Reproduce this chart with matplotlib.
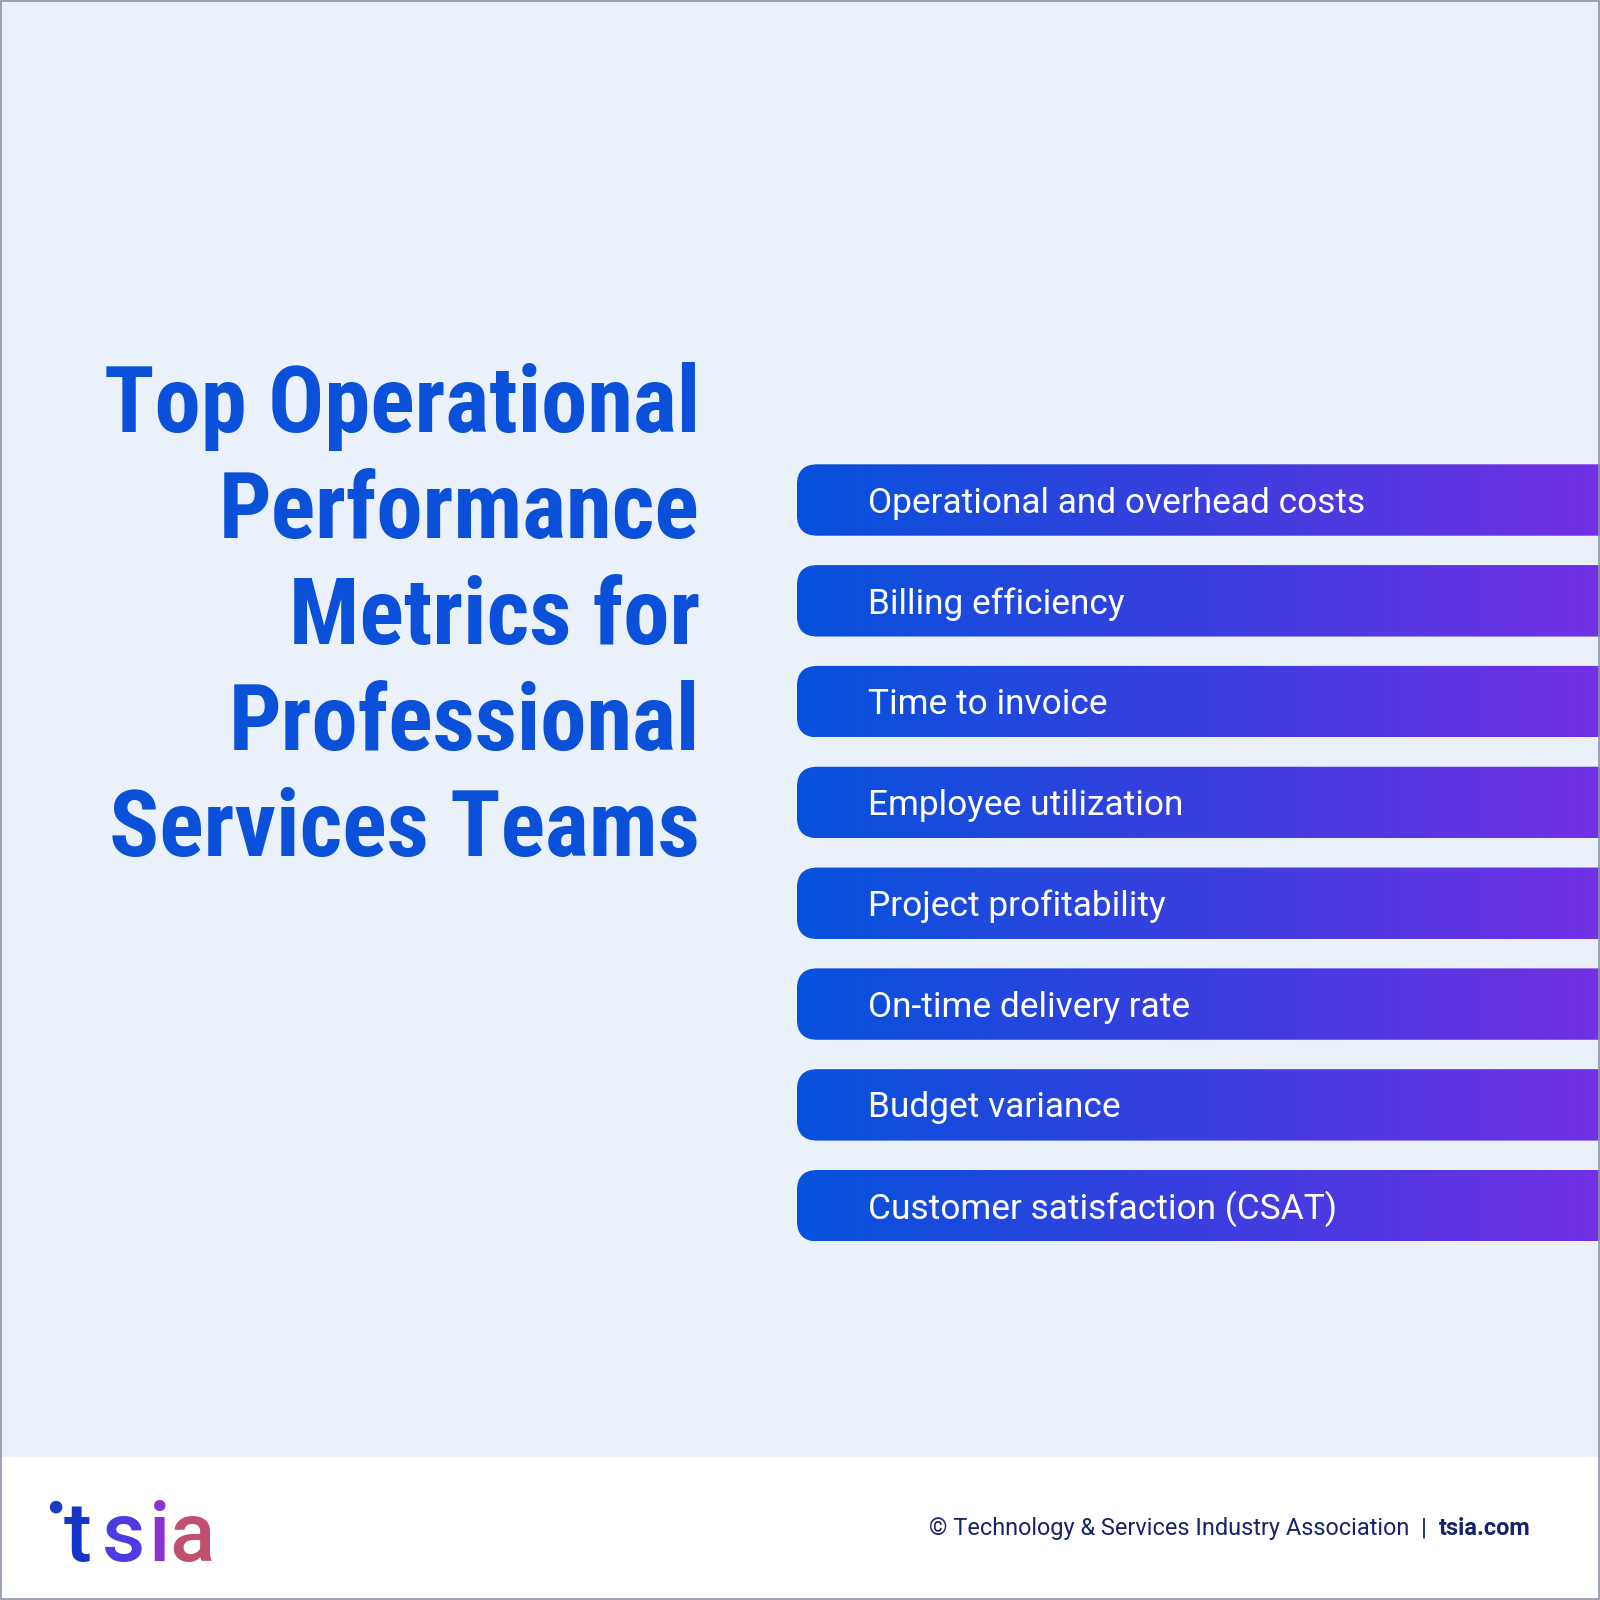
import numpy as np
import matplotlib
matplotlib.use("Agg")
import matplotlib.pyplot as plt
from matplotlib.patches import FancyBboxPatch, Rectangle
from matplotlib import font_manager as fm
from matplotlib.colors import LinearSegmentedColormap

title_lines = ["Top Operational", "Performance", "Metrics for", "Professional", "Services Teams"]
metrics = ["Operational and overhead costs", "Billing efficiency", "Time to invoice",
           "Employee utilization", "Project profitability", "On-time delivery rate",
           "Budget variance", "Customer satisfaction (CSAT)"]
footer = "© Technology & Services Industry Association  |  "
footer_bold = "tsia.com"
logo_letters = ["t", "s", "i", "a"]

names = {f.name for f in fm.fontManager.ttflist}
cond = next((n for n in ["Roboto Condensed", "Liberation Sans Narrow", "Roboto"] if n in names), "DejaVu Sans")

W = 1568
S = 1600 / W
def pt(px):
    return px * S * 72 / 100

fig = plt.figure(figsize=(16, 16), dpi=100)
ax = fig.add_axes([0, 0, 1, 1])
ax.set_xlim(0, W); ax.set_ylim(W, 0); ax.axis("off")
ax.add_patch(Rectangle((0, 0), W, 1428, color="#EAF1FB", zorder=0))
ax.add_patch(Rectangle((0, 1428), W, W - 1428, color="white", zorder=0))
ax.add_patch(Rectangle((0.5, 0.5), W - 1, W - 1, fill=False, ec="#8a94a8", lw=1.2, zorder=10))

for i, t in enumerate(title_lines):
    ax.text(686, 398 + i * 104, t, ha="right", va="center", fontfamily=cond,
            fontweight="bold", fontsize=pt(91), color="#0A50D8")

cmap = LinearSegmentedColormap.from_list("g", ["#0652DC", "#3A3FDF", "#7230E4"])
grad = np.linspace(0, 1, 256)[None, :]
for i, m in enumerate(metrics):
    y0 = 455 + i * 98.8
    h = 70
    patch = FancyBboxPatch((781, y0), 900, h, boxstyle="round,pad=0,rounding_size=20",
                           fc="none", ec="none")
    ax.add_patch(patch)
    im = ax.imshow(grad, extent=(781, W, y0 + h, y0), cmap=cmap, aspect="auto", zorder=2)
    im.set_clip_path(patch)
    ax.text(851, y0 + h / 2 + 3, m, ha="left", va="center", fontfamily="Roboto",
            fontsize=pt(34.6), color="white", zorder=3)

# logo
ax.add_patch(plt.Circle((55, 1477), 5.5, color="#1a3cc0", zorder=3))
logo_cols = ["#1535C8", "#4B3BE0", "#8A33D0", "#C0506E"]
xs = [62, 100, 146, 166]
for ch, c, x in zip(logo_letters, logo_cols, xs):
    ax.text(x, 1530, ch, ha="left", va="baseline", fontfamily="Roboto",
            fontweight="medium", fontsize=pt(82), color=c, zorder=3)

t2 = ax.text(1500, 1498, footer_bold, ha="right", va="center", fontfamily="Roboto",
             fontweight="bold", fontsize=pt(23), color="#14246A")
fig.canvas.draw()
bb = t2.get_window_extent()
xl = ax.transData.inverted().transform((bb.x0, bb.y0))[0]
ax.text(xl, 1498, footer, ha="right", va="center", fontfamily="Roboto",
        fontsize=pt(23), color="#14246A")

fig.savefig("out.png", dpi=100)
